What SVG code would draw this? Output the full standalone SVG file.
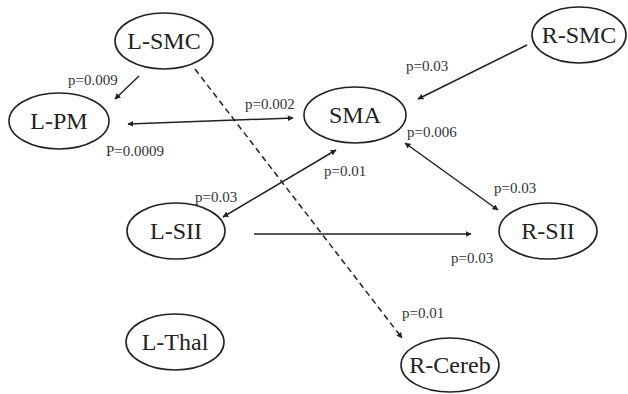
<svg xmlns="http://www.w3.org/2000/svg" width="628" height="394" viewBox="0 0 628 394">
<style>
.node ellipse{fill:#fff;stroke:#222;stroke-width:1.6}
.node text{font-size:24px;fill:#222;text-anchor:middle}
.lbl{font-size:15px;fill:#333}
.edge{stroke:#222;stroke-width:1.5;fill:none}
.dash{stroke-dasharray:6,4}
</style>
<defs>
<marker id="ah" viewBox="0 0 10 10" refX="9" refY="5" markerWidth="6" markerHeight="6" markerUnits="userSpaceOnUse" orient="auto-start-reverse">
<path d="M0,0 L10,5 L0,10 z" fill="#222"/>
</marker>
</defs>
<rect width="628" height="394" fill="#fff"/>
<g id="connectors">
<line class="edge" x1="139" y1="76" x2="115" y2="99" marker-end="url(#ah)"/>
<line class="edge" x1="128" y1="124" x2="293" y2="118" marker-start="url(#ah)" marker-end="url(#ah)"/>
<line class="edge dash" x1="195" y1="69" x2="402" y2="338" marker-end="url(#ah)"/>
<line class="edge" x1="527" y1="45" x2="418" y2="99" marker-end="url(#ah)"/>
<line class="edge" x1="336" y1="150" x2="223" y2="217" marker-start="url(#ah)" marker-end="url(#ah)"/>
<line class="edge" x1="405" y1="143" x2="498" y2="210" marker-start="url(#ah)" marker-end="url(#ah)"/>
<line class="edge" x1="254" y1="234" x2="471" y2="234" marker-end="url(#ah)"/>
</g>
<g id="labels" font-family="'Liberation Serif', 'DejaVu Serif', 'Times New Roman', serif">
<text class="lbl" x="68" y="85">p=0.009</text>
<text class="lbl" x="245" y="109">p=0.002</text>
<text class="lbl" x="106" y="156">P=0.0009</text>
<text class="lbl" x="406" y="71">p=0.03</text>
<text class="lbl" x="407" y="137">p=0.006</text>
<text class="lbl" x="324" y="176">p=0.01</text>
<text class="lbl" x="494" y="193">p=0.03</text>
<text class="lbl" x="195" y="202">p=0.03</text>
<text class="lbl" x="451" y="263">p=0.03</text>
<text class="lbl" x="402" y="318">p=0.01</text>
</g>
<g font-family="'Liberation Serif', 'DejaVu Serif', 'Times New Roman', serif">
<g id="L-SMC" class="node"><ellipse cx="164" cy="41" rx="49" ry="28"/><text x="164" y="49">L-SMC</text></g>
<g id="L-PM" class="node"><ellipse cx="59" cy="121" rx="50" ry="28"/><text x="59" y="129">L-PM</text></g>
<g id="SMA" class="node"><ellipse cx="355" cy="115" rx="51" ry="28"/><text x="355" y="123">SMA</text></g>
<g id="R-SMC" class="node"><ellipse cx="579" cy="35" rx="47" ry="28"/><text x="579" y="43">R-SMC</text></g>
<g id="L-SII" class="node"><ellipse cx="176" cy="231" rx="49" ry="28"/><text x="176" y="239">L-SII</text></g>
<g id="R-SII" class="node"><ellipse cx="548" cy="231" rx="49" ry="28"/><text x="548" y="239">R-SII</text></g>
<g id="L-Thal" class="node"><ellipse cx="175" cy="342" rx="49" ry="28"/><text x="175" y="350">L-Thal</text></g>
<g id="R-Cereb" class="node"><ellipse cx="450" cy="365" rx="49" ry="27"/><text x="450" y="373">R-Cereb</text></g>
</g>
</svg>
